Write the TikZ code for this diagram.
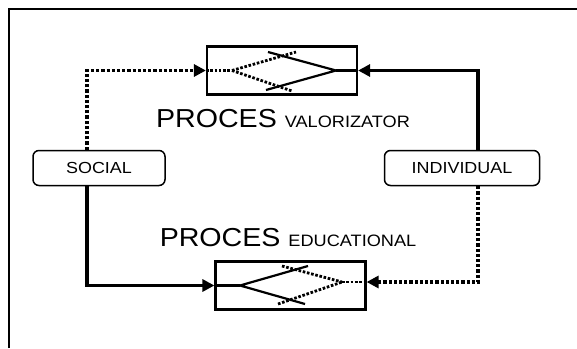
\documentclass[tikz,border=0pt]{standalone}
\usepackage{fontspec}
\setmainfont{Liberation Sans}
\usepackage{tikz}
\usetikzlibrary{arrows.meta,calc,positioning}

\tikzset{
  procbox/.style={draw,line width=2.2pt,minimum width=150pt,minimum height=48pt,inner sep=0pt},
  agent/.style={draw,line width=1.5pt,rounded corners=6pt,minimum height=35pt,inner sep=0pt},
  agenttxt/.style={inner sep=0pt,xscale=1.12,transform shape,font=\fontsize{16}{18}\selectfont},
  proclabel/.style={inner sep=0pt,anchor=base,xscale=1.1,transform shape,font=\fontsize{26}{30}\selectfont},
  flow/.style={line width=3.2pt,-{Triangle[length=12pt,width=12pt]}},
  dotline/.style={dash pattern=on 3.2pt off 2pt},
  inner/.style={line width=2.2pt},
  innerdot/.style={line width=2.8pt,dash pattern=on 2.6pt off 1.7pt}
}

\begin{document}
\begin{tikzpicture}[x=1pt,y=-1pt]
\useasboundingbox (0,0) rectangle (577,348);
\draw[line width=2.2pt] (9,348) -- (9,9) -- (577,9);

\node[procbox] (val) at (282,70.5) {};
\node[procbox] (edu) at (290.5,285.5) {};
\node[agent,minimum width=132pt] (soc) at (99,168) {};
\node[agent,minimum width=155pt] (ind) at (462,168) {};
\node[agenttxt] (soctxt) at (soc.center) {SOCIAL};
\node[agenttxt] (indtxt) at (ind.center) {INDIVIDUAL};

\node[proclabel] (valtxt) at (283,127) {PROCES {\fontsize{16.5}{19}\selectfont VALORIZATOR}};
\node[proclabel] (edutxt) at (288,246) {PROCES {\fontsize{16.5}{19}\selectfont EDUCATIONAL}};

% connectors
\draw[flow,dotline] ([xshift=-12pt]soc.north) |- (val.west);
\draw[flow] ([xshift=-12pt]soc.south) |- (edu.west);
\draw[flow] ([xshift=16pt]ind.north) |- (val.east);
\draw[flow,dotline] ([xshift=16pt]ind.south) |- ([yshift=3.5pt]edu.east);

% top box: branches
\coordinate (vsplit) at ($(val.center)+(-50,0)$);
\coordinate (vjoin) at ($(val.center)+(54,0)$);
\draw[innerdot] (val.west) -- (vsplit);
\draw[innerdot] (vsplit) -- ($(val.center)+(14,-18.5)$);
\draw[innerdot] (vsplit) -- ($(val.center)+(10,20.5)$);
\draw[inner] ($(val.center)+(-14,-18.5)$) -- (vjoin) -- ($(val.center)+(-16,19.5)$);
\draw[inner] (vjoin) -- (val.east);

% bottom box: branches
\coordinate (esplit) at ($(edu.center)+(-50.5,0)$);
\coordinate (ejoin) at ($(edu.center)+(51.5,-3.5)$);
\draw[inner] (edu.west) -- (esplit);
\draw[inner] ($(edu.center)+(17.5,-19.5)$) -- (esplit) -- ($(edu.center)+(14.5,18.5)$);
\draw[innerdot] ($(edu.center)+(-8.5,-19.5)$) -- (ejoin);
\draw[innerdot] ($(edu.center)+(-12.5,18.5)$) -- (ejoin);
\draw[innerdot] (ejoin) -- ($(edu.east)+(0,-3.5)$);
\end{tikzpicture}
\end{document}
